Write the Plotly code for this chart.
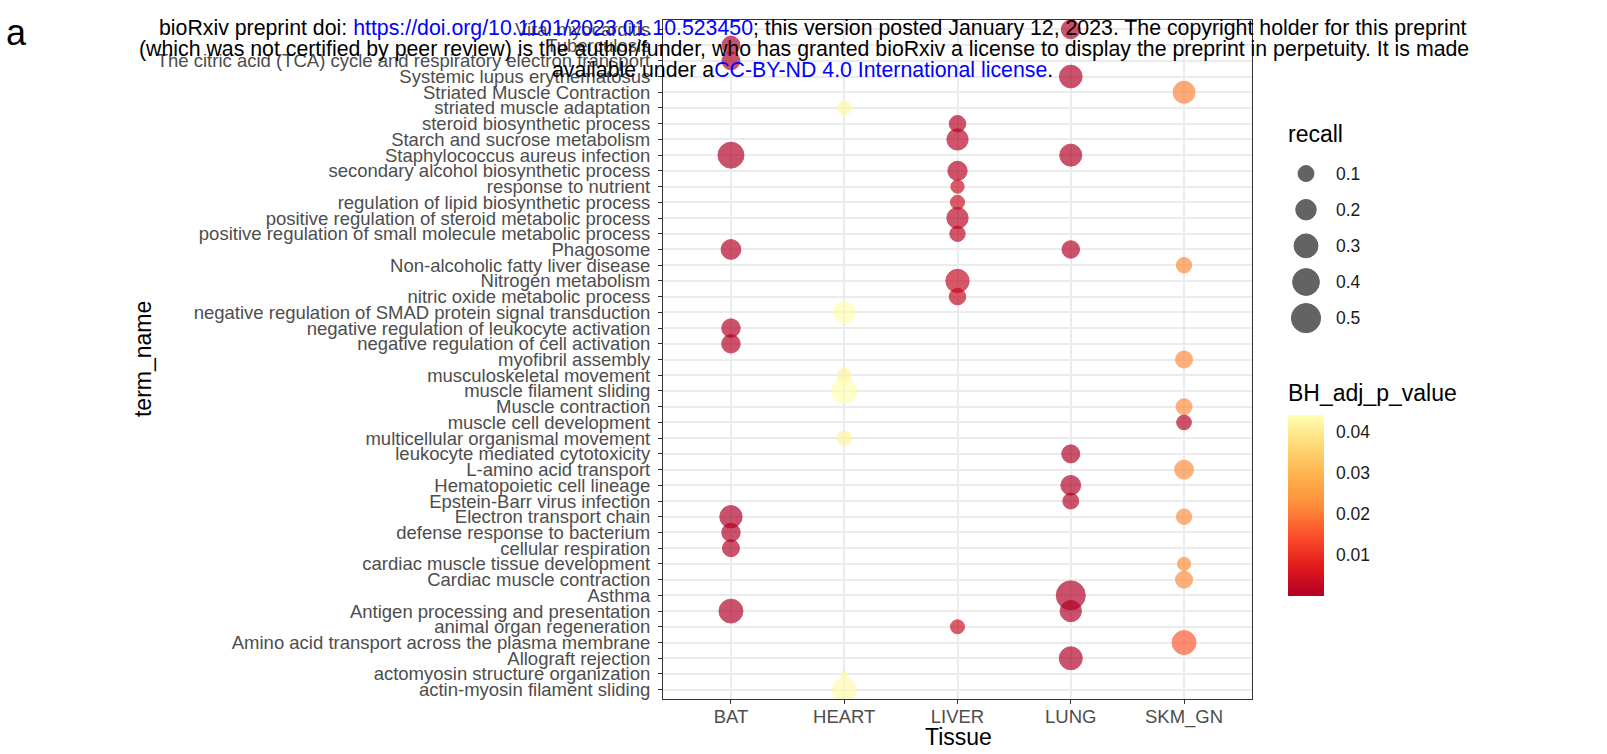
import plotly.graph_objects as go

# ---- data -------------------------------------------------------------
terms_top_to_bottom = [
    "Viral myocarditis",
    "Tuberculosis",
    "The citric acid (TCA) cycle and respiratory electron transport",
    "Systemic lupus erythematosus",
    "Striated Muscle Contraction",
    "striated muscle adaptation",
    "steroid biosynthetic process",
    "Starch and sucrose metabolism",
    "Staphylococcus aureus infection",
    "secondary alcohol biosynthetic process",
    "response to nutrient",
    "regulation of lipid biosynthetic process",
    "positive regulation of steroid metabolic process",
    "positive regulation of small molecule metabolic process",
    "Phagosome",
    "Non-alcoholic fatty liver disease",
    "Nitrogen metabolism",
    "nitric oxide metabolic process",
    "negative regulation of SMAD protein signal transduction",
    "negative regulation of leukocyte activation",
    "negative regulation of cell activation",
    "myofibril assembly",
    "musculoskeletal movement",
    "muscle filament sliding",
    "Muscle contraction",
    "muscle cell development",
    "multicellular organismal movement",
    "leukocyte mediated cytotoxicity",
    "L-amino acid transport",
    "Hematopoietic cell lineage",
    "Epstein-Barr virus infection",
    "Electron transport chain",
    "defense response to bacterium",
    "cellular respiration",
    "cardiac muscle tissue development",
    "Cardiac muscle contraction",
    "Asthma",
    "Antigen processing and presentation",
    "animal organ regeneration",
    "Amino acid transport across the plasma membrane",
    "Allograft rejection",
    "actomyosin structure organization",
    "actin-myosin filament sliding",
]

tissues = ["BAT", "HEART", "LIVER", "LUNG", "SKM_GN"]

term_name = [
    "Viral myocarditis",
    "Tuberculosis",
    "The citric acid (TCA) cycle and respiratory electron transport",
    "Systemic lupus erythematosus",
    "Striated Muscle Contraction",
    "striated muscle adaptation",
    "steroid biosynthetic process",
    "Starch and sucrose metabolism",
    "Staphylococcus aureus infection",
    "Staphylococcus aureus infection",
    "secondary alcohol biosynthetic process",
    "response to nutrient",
    "regulation of lipid biosynthetic process",
    "positive regulation of steroid metabolic process",
    "positive regulation of small molecule metabolic process",
    "Phagosome",
    "Phagosome",
    "Non-alcoholic fatty liver disease",
    "Nitrogen metabolism",
    "nitric oxide metabolic process",
    "negative regulation of SMAD protein signal transduction",
    "negative regulation of leukocyte activation",
    "negative regulation of cell activation",
    "myofibril assembly",
    "musculoskeletal movement",
    "muscle filament sliding",
    "Muscle contraction",
    "muscle cell development",
    "multicellular organismal movement",
    "leukocyte mediated cytotoxicity",
    "L-amino acid transport",
    "Hematopoietic cell lineage",
    "Epstein-Barr virus infection",
    "Electron transport chain",
    "Electron transport chain",
    "defense response to bacterium",
    "cellular respiration",
    "cardiac muscle tissue development",
    "Cardiac muscle contraction",
    "Asthma",
    "Antigen processing and presentation",
    "Antigen processing and presentation",
    "animal organ regeneration",
    "Amino acid transport across the plasma membrane",
    "Allograft rejection",
    "actomyosin structure organization",
    "actin-myosin filament sliding",
]

tissue = [
    "LUNG", "BAT", "BAT", "LUNG", "SKM_GN", "HEART", "LIVER", "LIVER",
    "BAT", "LUNG", "LIVER", "LIVER", "LIVER", "LIVER", "LIVER",
    "BAT", "LUNG", "SKM_GN", "LIVER", "LIVER", "HEART", "BAT", "BAT",
    "SKM_GN", "HEART", "HEART", "SKM_GN", "SKM_GN", "HEART", "LUNG",
    "SKM_GN", "LUNG", "LUNG", "BAT", "SKM_GN", "BAT", "BAT", "SKM_GN",
    "SKM_GN", "LUNG", "BAT", "LUNG", "LIVER", "SKM_GN", "LUNG", "HEART",
    "HEART",
]

recall = [
    0.16, 0.14, 0.14, 0.26, 0.24, 0.07, 0.11, 0.22,
    0.37, 0.24, 0.17, 0.06, 0.07, 0.22, 0.09,
    0.18, 0.13, 0.09, 0.28, 0.11, 0.23, 0.15, 0.15,
    0.12, 0.07, 0.34, 0.10, 0.08, 0.08, 0.14,
    0.16, 0.18, 0.10, 0.25, 0.09, 0.15, 0.12, 0.06,
    0.12, 0.49, 0.30, 0.22, 0.07, 0.30, 0.27, 0.02,
    0.30,
]

bh_adj_p_value = [
    0.0004, 0.0003, 0.0003, 0.0004, 0.0210, 0.0430, 0.0008, 0.0015,
    0.0002, 0.0004, 0.0010, 0.0040, 0.0040, 0.0015, 0.0020,
    0.0005, 0.0006, 0.0220, 0.0030, 0.0030, 0.0438, 0.0006, 0.0006,
    0.0220, 0.0420, 0.0441, 0.0220, 0.0010, 0.0420, 0.0005,
    0.0220, 0.0005, 0.0008, 0.0003, 0.0225, 0.0004, 0.0005, 0.0225,
    0.0220, 0.0002, 0.0003, 0.0003, 0.0040, 0.0160, 0.0004, 0.0430,
    0.0432,
]

recall_legend = [0.1, 0.2, 0.3, 0.4, 0.5]
p_ticks = [0.01, 0.02, 0.03, 0.04]

# ---- styling helpers --------------------------------------------------
W, H = 1607, 754
FONT = "Liberation Sans"
TICK_FONT = dict(family=FONT, size=18.5, color="#4D4D4D")
KEY_FONT = dict(family=FONT, size=17.5, color="#1a1a1a")
TITLE_FONT = dict(family=FONT, size=23, color="black")
HEAD_FONT = dict(family=FONT, size=21.3, color="black")

ylorrd = [
    [0.0, "#B10026"], [1 / 6, "#E31A1C"], [2 / 6, "#FC4E2A"],
    [3 / 6, "#FD8D3C"], [4 / 6, "#FEB24C"], [5 / 6, "#FED976"],
    [1.0, "#FFFFB2"],
]


def px_x(x):
    return x / W


def px_y(y):
    return 1 - y / H


def dot_diameter(r):
    # area-style size scale: diameter grows with sqrt of recall
    return 6.8 + 32.4 * max(r - 0.02, 0) ** 0.5


sizes = [dot_diameter(r) for r in recall]
cmin, cmax = min(bh_adj_p_value), max(bh_adj_p_value)

# panel geometry (pixels)
PL, PR, PT, PB = 663, 1252, 19, 700
# colour bar geometry (pixels)
CB_L, CB_W, CB_T, CB_B = 1288, 36, 415, 596

fig = go.Figure()

fig.add_trace(go.Scatter(
    x=tissue, y=term_name, mode="markers",
    marker=dict(
        size=sizes, sizemode="diameter",
        color=bh_adj_p_value, colorscale=ylorrd, cmin=cmin, cmax=cmax,
        opacity=0.68,
        line=dict(width=1, color=bh_adj_p_value, colorscale=ylorrd,
                  cmin=cmin, cmax=cmax),
        colorbar=dict(
            thickness=CB_W, thicknessmode="pixels",
            len=CB_B - CB_T, lenmode="pixels",
            x=px_x(CB_L), xanchor="left",
            y=px_y((CB_T + CB_B) / 2), yanchor="middle",
            outlinewidth=0, xpad=0, ypad=0,
            tickvals=p_ticks, ticktext=[f"{v:.2f}" for v in p_ticks],
            ticks="outside", ticklen=9, tickwidth=1, tickcolor="white",
            tickfont=KEY_FONT,
        ),
    ),
    showlegend=False, hoverinfo="skip",
))

# size key for recall
fig.add_trace(go.Scatter(
    x=[0] * len(recall_legend), y=list(range(len(recall_legend))),
    mode="markers", xaxis="x2", yaxis="y2",
    marker=dict(size=[dot_diameter(r) for r in recall_legend],
                sizemode="diameter", color="#222222", opacity=0.7,
                line=dict(width=1, color="#222222")),
    showlegend=False, hoverinfo="skip",
))

annotations = []
for i, r in enumerate(recall_legend):
    annotations.append(dict(
        x=1, y=i, xref="x2", yref="y2", text=f"{r:.1f}", showarrow=False,
        xanchor="left", yanchor="middle", font=KEY_FONT))

annotations += [
    dict(x=px_x(1286), y=px_y(133), xref="paper", yref="paper",
         text="recall", showarrow=False, xanchor="left", yanchor="middle",
         font=TITLE_FONT),
    dict(x=px_x(1286), y=px_y(393), xref="paper", yref="paper",
         text="BH_adj_p_value", showarrow=False, xanchor="left",
         yanchor="middle", font=TITLE_FONT),
    dict(x=px_x(143), y=px_y(359), xref="paper", yref="paper",
         text="term_name", showarrow=False, textangle=-90,
         xanchor="center", yanchor="middle", font=TITLE_FONT),
    dict(x=px_x(958), y=px_y(738), xref="paper", yref="paper",
         text="Tissue", showarrow=False, xanchor="center", yanchor="middle",
         font=TITLE_FONT),
    dict(x=px_x(16), y=px_y(32), xref="paper", yref="paper",
         text="a", showarrow=False, xanchor="center", yanchor="middle",
         font=dict(family=FONT, size=36, color="black")),
    dict(x=px_x(813), y=px_y(27), xref="paper", yref="paper",
         text=("bioRxiv preprint doi: <span style='color:#0000ff'>"
               "https://doi.org/10.1101/2023.01.10.523450</span>; this version "
               "posted January 12, 2023. The copyright holder for this preprint"),
         showarrow=False, xanchor="center", yanchor="middle", font=HEAD_FONT),
    dict(x=px_x(804), y=px_y(48), xref="paper", yref="paper",
         text=("(which was not certified by peer review) is the author/funder, "
               "who has granted bioRxiv a license to display the preprint in "
               "perpetuity. It is made"),
         showarrow=False, xanchor="center", yanchor="middle", font=HEAD_FONT),
    dict(x=px_x(802), y=px_y(69), xref="paper", yref="paper",
         text=("available under a<span style='color:#0000ff'>CC-BY-ND 4.0 "
               "International license</span>."),
         showarrow=False, xanchor="center", yanchor="middle", font=HEAD_FONT),
]

# white tick marks across both edges of the colour bar
shapes = []
for v in p_ticks:
    yy = CB_B - (v - cmin) / (cmax - cmin) * (CB_B - CB_T)
    for x0, x1 in ((CB_L, CB_L + 7), (CB_L + CB_W - 7, CB_L + CB_W)):
        shapes.append(dict(type="line", xref="paper", yref="paper",
                           x0=px_x(x0), x1=px_x(x1), y0=px_y(yy), y1=px_y(yy),
                           line=dict(color="white", width=1)))

axis_common = dict(
    showgrid=True, gridcolor="#EBEBEB", gridwidth=1.6,
    showline=True, linecolor="#333333", linewidth=1.1, mirror=True,
    ticks="outside", ticklen=4, tickwidth=1.1, tickcolor="#333333",
    tickfont=TICK_FONT, zeroline=False, fixedrange=True,
)

# size key axes: x=0 at 1306px, x=1 at 1333px; rows every 36.25px from 173px
kx0, kx1 = 1280, 1400
ky0, ky1 = 150, 340
step = 36.25

fig.update_layout(
    width=W, height=H,
    margin=dict(l=0, r=0, t=0, b=0),
    paper_bgcolor="white", plot_bgcolor="white",
    font=dict(family=FONT),
    xaxis=dict(axis_common, domain=[px_x(PL), px_x(PR)],
               type="category", categoryorder="array", categoryarray=tissues,
               tickmode="array", tickvals=tissues, ticktext=tissues,
               ticklabelstandoff=-3,
               range=[-0.6, len(tissues) - 0.4]),
    yaxis=dict(axis_common, domain=[px_y(PB), px_y(PT)],
               type="category", categoryorder="array",
               categoryarray=terms_top_to_bottom[::-1],
               tickmode="array", tickvals=terms_top_to_bottom,
               ticktext=terms_top_to_bottom,
               ticklabelstandoff=4,
               range=[-0.6, len(terms_top_to_bottom) - 0.4]),
    xaxis2=dict(domain=[px_x(kx0), px_x(kx1)], anchor="y2",
                range=[(kx0 - 1306) / 28, (kx1 - 1306) / 28],
                visible=False, fixedrange=True),
    yaxis2=dict(domain=[px_y(ky1), px_y(ky0)], anchor="x2",
                range=[(ky1 - 173) / step, (ky0 - 173) / step],
                visible=False, fixedrange=True),
    annotations=annotations,
    shapes=shapes,
)

fig.write_html("out.html")
